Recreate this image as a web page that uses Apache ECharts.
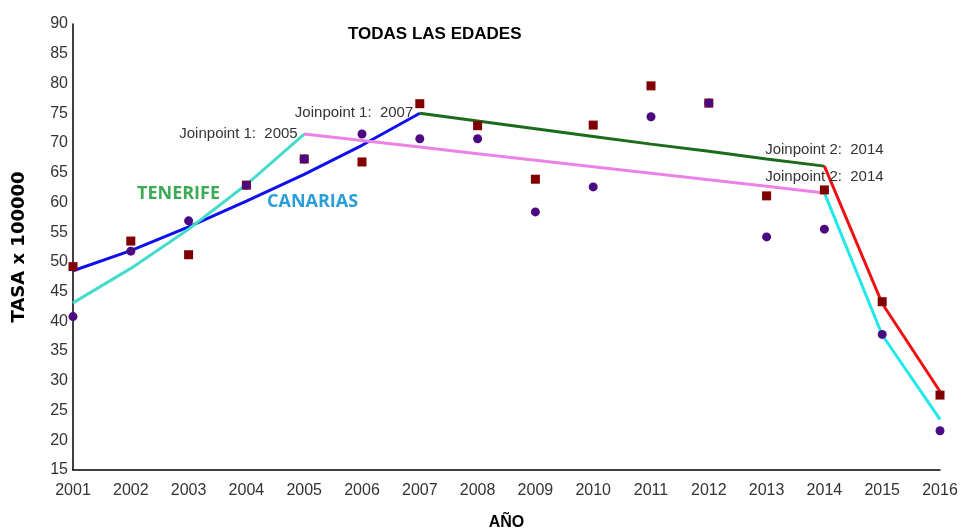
<!DOCTYPE html>
<html>
<head>
<meta charset="utf-8">
<script src="https://cdn.jsdelivr.net/npm/echarts@6/dist/echarts.min.js"></script>
<style>
  * { margin: 0; padding: 0; }
  body { background: #fff; }
</style>
</head>
<body>
<div id="main" style="width: 963px;height: 531px;"></div>
<script>
// años del eje x
var years = ['2001', '2002', '2003', '2004', '2005', '2006', '2007', '2008',
  '2009', '2010', '2011', '2012', '2013', '2014', '2015', '2016'];

// tasas observadas
var canariasObs = [49.2, 53.5, 51.2, 62.9, 67.3, 66.8, 76.6, 72.9, 63.9, 73.0, 79.6, 76.7, 61.1, 62.1, 43.3, 27.6];
var tenerifeObs = [40.8, 51.8, 56.9, 62.9, 67.3, 71.5, 70.7, 70.7, 58.4, 62.6, 74.4, 76.7, 54.2, 55.5, 37.8, 21.6];

// tramos del modelo joinpoint (Canarias)
var canariasSeg1 = [48.5, 51.9, 55.9, 60.2, 64.7, 69.6, 75.0];           // 2001-2007
var canariasSeg2 = [75.0, 73.7, 72.4, 71.1, 69.8, 68.6, 67.3, 66.1];     // 2007-2014
var canariasSeg3 = [66.1, 43.0, 28.2];                                   // 2014-2016

// tramos del modelo joinpoint (Tenerife)
var tenerifeSeg1 = [43.1, 48.9, 55.5, 63.0, 71.5];                       // 2001-2005
var tenerifeSeg2 = [71.5, 70.4, 69.3, 68.2, 67.1, 66.0, 64.9, 63.8, 62.7, 61.6]; // 2005-2014
var tenerifeSeg3 = [61.6, 37.7, 23.5];                                   // 2014-2016

var yTicks = { min: 15, max: 90, step: 5 };

var FONT = 'Liberation Sans, Arial, sans-serif';

// rellena con null para colocar un tramo en el eje de categorias
function pad(startYear, arr, labelIdx, labelOpt) {
  var out = [];
  var s = years.indexOf(startYear);
  for (var i = 0; i < years.length; i++) {
    var k = i - s;
    if (k >= 0 && k < arr.length) {
      if (k === labelIdx) {
        out.push({ value: arr[k], label: labelOpt });
      } else {
        out.push(arr[k]);
      }
    } else {
      out.push(null);
    }
  }
  return out;
}

function segLine(name, color, data) {
  return {
    name: name,
    type: 'line',
    data: data,
    symbol: 'circle',
    symbolSize: 1,
    lineStyle: { color: color, width: 3 },
    itemStyle: { color: color },
    z: 2
  };
}

var jpLabel = function (text, pos, dist) {
  return {
    show: true,
    position: pos,
    distance: dist,
    formatter: text,
    color: '#333',
    fontSize: 15,
    fontFamily: FONT
  };
};

var myChart = echarts.init(document.getElementById('main'));
myChart.setOption({
  animation: false,
  backgroundColor: '#fff',
  title: {
    text: 'TODAS LAS EDADES',
    left: 343,
    top: 21,
    textStyle: { fontSize: 17, fontWeight: 'bold', color: '#000', fontFamily: FONT }
  },
  grid: { left: 73, right: 23, top: 24, bottom: 61, containLabel: false, outerBoundsMode: 'none' },
  xAxis: {
    type: 'category',
    data: years,
    boundaryGap: false,
    name: 'AÑO',
    nameLocation: 'middle',
    nameGap: 45,
    nameTextStyle: { fontSize: 16, fontWeight: 'bold', color: '#000', fontFamily: FONT },
    axisLine: { lineStyle: { color: '#000', width: 1.5 } },
    axisTick: { show: false },
    axisLabel: { color: '#333', fontSize: 16, margin: 13, interval: 0, fontFamily: FONT },
    splitLine: { show: false }
  },
  yAxis: {
    type: 'value',
    min: yTicks.min,
    max: yTicks.max,
    interval: yTicks.step,
    name: 'TASA x 100000',
    nameLocation: 'middle',
    nameRotate: 90,
    nameGap: 45,
    nameTextStyle: { fontSize: 18, fontWeight: 'bold', color: '#000', fontFamily: 'DejaVu Sans, sans-serif' },
    axisLine: { show: true, lineStyle: { color: '#000', width: 1.5 } },
    axisTick: { show: false },
    axisLabel: { color: '#333', fontSize: 16, margin: 5, fontFamily: FONT },
    splitLine: { show: false }
  },
  graphic: [
    {
      type: 'text', left: 137, top: 185,
      style: { text: 'TENERIFE', fill: '#3daa55', font: 'bold 18px "Open Sans", "Liberation Sans", sans-serif' }
    },
    {
      type: 'text', left: 267, top: 193,
      style: { text: 'CANARIAS', fill: '#2a9ed8', font: 'bold 18px "Open Sans", "Liberation Sans", sans-serif' }
    }
  ],
  series: [
    segLine('Canarias 2001-2007', '#1010ee', pad('2001', canariasSeg1, 6, jpLabel('Joinpoint 1:  2007', 'left', 6))),
    segLine('Canarias 2007-2014', '#1b6b1b', pad('2007', canariasSeg2, 7, jpLabel('Joinpoint 2:  2014', 'top', 8))),
    segLine('Canarias 2014-2016', '#f01010', pad('2014', canariasSeg3)),
    segLine('Tenerife 2001-2005', '#45dccb', pad('2001', tenerifeSeg1, 4, jpLabel('Joinpoint 1:  2005', 'left', 6))),
    segLine('Tenerife 2005-2014', '#ec82e6', pad('2005', tenerifeSeg2, 9, jpLabel('Joinpoint 2:  2014', 'top', 8))),
    segLine('Tenerife 2014-2016', '#22e8e8', pad('2014', tenerifeSeg3)),
    {
      name: 'Canarias',
      type: 'scatter',
      data: canariasObs,
      symbol: 'rect',
      symbolSize: 9,
      itemStyle: { color: '#800000', opacity: 1 },
      z: 3
    },
    {
      name: 'Tenerife',
      type: 'scatter',
      data: tenerifeObs,
      symbol: 'circle',
      symbolSize: 9,
      itemStyle: { color: '#4b0a82', opacity: 1 },
      z: 4
    }
  ]
});
</script>
</body>
</html>
